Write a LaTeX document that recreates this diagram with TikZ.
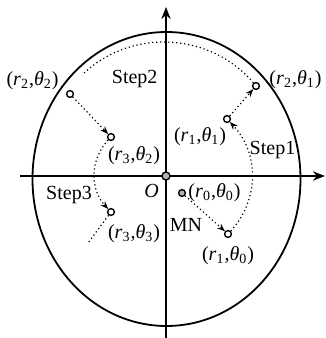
\documentclass[tikz,border=0pt]{standalone}
\usepackage{amsmath, amssymb}
\usepackage{fontspec}
\setmainfont{Liberation Serif}
\usepackage{tikz}
\usetikzlibrary{positioning, arrows.meta}
\newcommand{\polpt}[2]{(\textit{r}\textsubscript{#1},\textit{θ}\textsubscript{#2})}

\begin{document}
\begin{tikzpicture}[
        x=0.5pt, y=0.5pt,
        font=\fontsize{10}{12}\selectfont,
        ptnode/.style={circle, draw, fill=white, inner sep=0pt, minimum size=3.4pt, line width=0.7pt},
        lab/.style={inner sep=1pt},
        axis/.style={line width=0.9pt, -{Stealth[length=6pt, width=4.6pt]}},
        dotline/.style={line width=0.6pt, dash pattern=on 0.6pt off 1.4pt},
        dotarr/.style={dotline, -{Stealth[length=4pt, width=3pt]}}
    ]
    \useasboundingbox (-166,-162) rectangle (160,176);

    % boundary and axes
    \draw[line width=0.9pt] (0.5,-3) ellipse [x radius=134, y radius=147];
    \coordinate (xl) at (-146,0);
    \coordinate (xr) at (159,0);
    \coordinate (yb) at (0,-162);
    \coordinate (yt) at (0,169);
    \draw[axis] (xl) -- (xr);
    \draw[axis] (yb) -- (yt);

    % positions
    \node[ptnode, fill=gray!60, minimum size=4pt] (O) at (0,0) {};
    \node[ptnode, fill=gray!60] (r0t0) at (16,-17) {};
    \node[ptnode] (r1t0) at (62,-58) {};
    \node[ptnode] (r1t1) at (61,57) {};
    \node[ptnode] (r2t1) at (90,90) {};
    \node[ptnode] (r2t2) at (-96,82) {};
    \node[ptnode] (r3t2) at (-55,39) {};
    \node[ptnode] (r3t3) at (-55,-36) {};
    \coordinate (s2end) at (-84,101);
    \coordinate (s3end) at (-78,-67);

    % moves
    \draw[dotarr] (r0t0) -- (r1t0);
    \draw[dotarr] (r1t0) to[bend right=43] (r1t1);
    \draw[dotarr] (r1t1) -- (r2t1);
    \draw[dotline] (r2t1) to[bend right=47] (s2end);
    \draw[dotarr] (r2t2) -- (r3t2);
    \draw[dotarr] (r3t2) to[bend right=43] (r3t3);
    \draw[dotline] (r3t3) -- (s3end);

    % labels
    \node[lab, left=2.5pt of r2t2, yshift=6.75pt] (lr2t2) {\polpt{2}{2}};
    \node[lab, below=1.5pt of r3t2, xshift=11.5pt] (lr3t2) {\polpt{3}{2}};
    \node[lab, right=3.5pt of r2t1, yshift=3.25pt] (lr2t1) {\polpt{2}{1}};
    \node[lab, below=1pt of r1t1, xshift=-13.5pt] (lr1t1) {\polpt{1}{1}};
    \node[lab, right=0pt of r0t0] (lr0t0) {\polpt{0}{0}};
    \node[lab, below=3pt of r1t0] (lr1t0) {\polpt{1}{0}};
    \node[lab, below=3pt of r3t3, xshift=11.5pt] (lr3t3) {\polpt{3}{3}};
    \node[lab] (step1) at (106.5,25.5) {Step1};
    \node[lab] (step2) at (-31.3,97) {Step2};
    \node[lab] (step3) at (-97,-19.5) {Step3};
    \node[lab] (mn) at (20,-49) {MN};
    \node[lab] (olab) at (-14.5,-15) {\textit{O}};
\end{tikzpicture}
\end{document}
